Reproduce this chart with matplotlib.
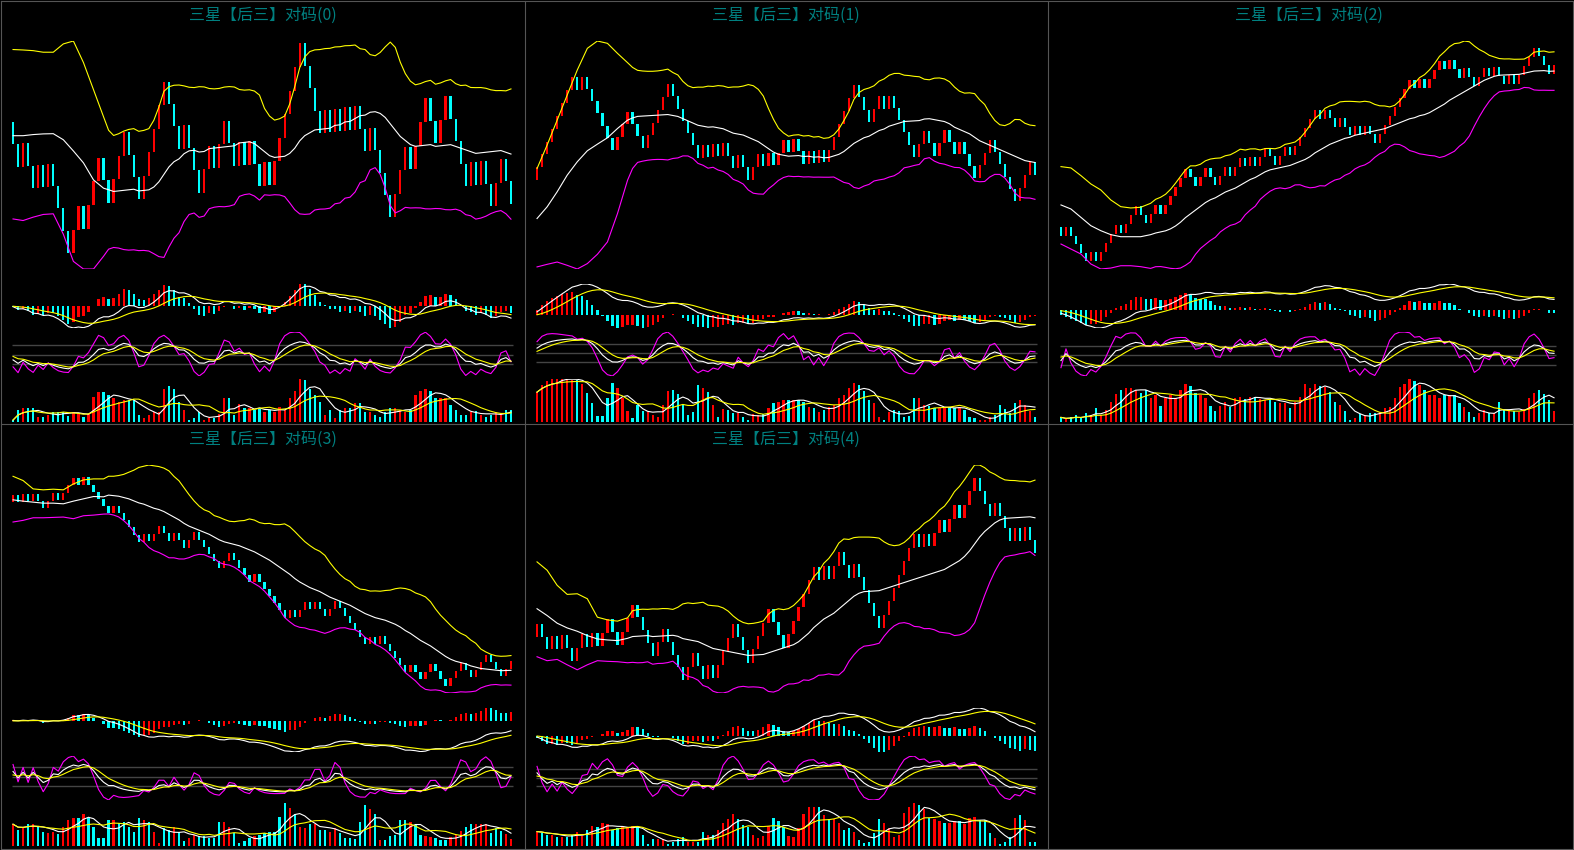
import numpy as np
import matplotlib.pyplot as plt
from matplotlib.lines import Line2D

plt.rcParams['font.family'] = ['Noto Sans CJK SC', 'DejaVu Sans']

# ---- data ----
titles = ['三星【后三】对码(0)', '三星【后三】对码(1)', '三星【后三】对码(2)',
          '三星【后三】对码(3)', '三星【后三】对码(4)']

# U = red bar (step up), D = cyan bar (step down); each bar opens at the previous close
moves = [
    "DDUDDUDUDD" "DDUUDUUUDD" "UUUDDDUUUU" "UDDDUDDDUU" "DUUDDUDUDD"
    "UDUUUUUUDD" "DDUDUDUDUD" "DUDDDDUUUD" "UUUDDUUDDD" "DUDUDDUUDD",
    "UUUUUUUUDU" "DDDDDDUUUD" "DDUUUUUDDD" "DDDUDUDUDD" "UDDUUDUDUU"
    "DUDDUDUDUU" "UUUUDDDUUD" "UDDDDDUUDD" "UUDDUDDDUU" "UDDDDDUUUD",
    "DUDDDDUDUU" "UUDUUUDDUU" "DUUUUUDDUU" "DDUUDUUDUD" "UUDDUUDUUU"
    "UUDUDDUDDU" "DUDDUUUUUU" "UDUDUUUDUD" "DUDDUUDUDD" "UDUUUUDDDU",
    "UDUDUDDUUD" "UUUDUDDDDD" "UDDDDDUDUU" "DDUDDUUDDD" "DDUUDDDDUD"
    "DDDDDUDUUD" "UDDUUDDDDD" "DUDUDDDDDU" "DDUUDDDUUU" "DDUUUDDDUU",
    "UDDUDUDDUU" "DUDUUDDUUU" "DDDDUUDDDD" "UUDDUDUUUU" "DDDUUUUDDD"
    "UUUUUUDUDU" "UDDUDDDDDU" "UUUUUUDUDU" "UDUUDUUUDD" "DUDDDUDUDD",
]
up_step = 1.05   # an up bar is a little taller than a down bar
down_step = 1.0

vol0 = [5, 35, 40, 40, 40, 13, 13, 20, 28, 28,
        30, 18, 30, 27, 15, 22, 72, 87, 87, 80,
        70, 60, 65, 65, 65, 20, 12, 20, 30, 30,
        97, 107, 97, 60, 35, 5, 12, 30, 5, 12,
        12, 22, 70, 70, 20, 52, 40, 40, 35, 38,
        30, 35, 30, 45, 35, 70, 90, 127, 125, 98,
        80, 60, 20, 35, 10, 35, 40, 40, 55, 55,
        30, 28, 20, 13, 30, 40, 40, 35, 30, 35,
        78, 92, 97, 92, 70, 70, 70, 50, 35, 20,
        20, 30, 32, 20, 15, 20, 28, 25, 35, 35]
vol1 = [88, 110, 122, 127, 127, 127, 127, 125, 125, 112,
        85, 55, 17, 17, 70, 115, 100, 70, 32, 10,
        50, 32, 30, 20, 15, 50, 90, 95, 82, 50,
        20, 30, 110, 100, 88, 50, 15, 38, 35, 25,
        25, 15, 5, 22, 20, 22, 40, 55, 60, 65,
        65, 65, 65, 60, 45, 40, 30, 35, 45, 50,
        70, 80, 100, 115, 110, 90, 65, 55, 15, 5,
        30, 35, 32, 15, 17, 70, 70, 50, 48, 40,
        40, 40, 45, 40, 45, 35, 15, 10, 5, 5,
        15, 20, 50, 38, 25, 55, 65, 50, 32, 15]
vol2 = [13, 7, 13, 20, 10, 27, 20, 42, 20, 35,
        60, 82, 95, 100, 100, 95, 87, 95, 70, 80,
        48, 70, 80, 70, 95, 113, 108, 85, 80, 70,
        48, 32, 48, 60, 45, 72, 75, 68, 75, 75,
        68, 65, 68, 58, 55, 55, 42, 58, 75, 112,
        100, 112, 107, 105, 90, 60, 50, 32, 5, 12,
        22, 20, 25, 25, 30, 40, 45, 70, 105, 113,
        128, 122, 110, 95, 80, 80, 70, 80, 80, 80,
        55, 45, 30, 15, 25, 35, 25, 25, 60, 35,
        35, 32, 30, 38, 70, 85, 95, 82, 65, 32]
vol3 = [65, 47, 54, 65, 65, 57, 42, 37, 42, 35,
        55, 77, 85, 85, 97, 85, 57, 22, 22, 77,
        77, 69, 72, 57, 42, 85, 77, 72, 42, 7,
        52, 47, 55, 40, 15, 22, 32, 29, 29, 22,
        22, 72, 72, 57, 37, 7, 15, 22, 29, 32,
        37, 42, 42, 87, 129, 115, 97, 57, 52, 67,
        67, 47, 47, 42, 52, 37, 22, 22, 19, 72,
        122, 112, 97, 17, 17, 29, 32, 77, 77, 72,
        62, 32, 29, 27, 22, 17, 17, 27, 32, 45,
        57, 65, 65, 65, 65, 37, 52, 45, 35, 20]
vol4 = [42, 39, 32, 32, 27, 27, 27, 32, 42, 29,
        47, 59, 57, 67, 65, 47, 52, 55, 55, 59,
        57, 32, 5, 19, 19, 19, 5, 12, 20, 25,
        12, 12, 12, 42, 32, 32, 47, 67, 79, 95,
        79, 62, 57, 32, 22, 29, 59, 82, 72, 57,
        30, 25, 52, 95, 115, 115, 115, 92, 79, 79,
        69, 47, 52, 42, 17, 7, 12, 39, 79, 69,
        52, 27, 32, 97, 115, 127, 122, 109, 82, 79,
        72, 67, 67, 72, 72, 65, 82, 85, 75, 75,
        39, 22, 5, 12, 25, 82, 92, 75, 12, 12]
volumes = [vol0, vol1, vol2, vol3, vol4]

# BOLL values over the first 19 bars (their window reaches before the chart), bars 0,2,..,18
boll_head_idx = [0, 2, 4, 6, 8, 10, 12, 14, 16, 18]
boll_up_head = [
    [3.23, 3.21, 3.18, 3.11, 3.11, 3.48, 3.61, 2.65, 1.44, 0.23],
    [0.95, 2.86, 4.90, 6.95, 8.99, 10.76, 11.36, 11.17, 10.35, 9.59],
    [7.05, 6.90, 6.01, 5.04, 4.34, 3.18, 2.40, 2.25, 2.33, 2.79],
    [3.59, 3.00, 1.84, 1.71, 1.80, 1.71, 2.53, 3.09, 3.23, 3.23],
    [5.89, 5.24, 4.06, 3.35, 3.40, 3.01, 1.57, 1.36, 1.26, 1.52],
]
boll_mid_head = [
    [-0.61, -0.61, -0.56, -0.53, -0.52, -0.79, -1.29, -1.82, -2.58, -2.95],
    [-3.13, -2.18, -0.95, 0.41, 1.50, 2.40, 2.94, 3.46, 4.22, 4.90],
    [2.60, 2.13, 1.16, 0.19, -0.39, -0.85, -1.09, -1.09, -1.09, -0.85],
    [0.32, 0.14, 0.0, -0.14, -0.14, -0.23, 0.14, 0.46, 0.78, 0.74],
    [2.23, 1.70, 1.10, 0.73, 0.47, 0.13, -0.13, -0.21, -0.26, -0.08],
]
boll_low_head = [
    [-4.32, -4.39, -4.24, -4.12, -4.09, -5.00, -6.21, -6.55, -6.55, -5.98],
    [-7.08, -6.87, -6.68, -6.95, -7.25, -6.81, -6.05, -5.04, -2.72, 0.0],
    [-1.94, -2.52, -3.10, -4.26, -4.84, -4.73, -4.46, -4.46, -4.57, -4.77],
    [-2.76, -2.53, -2.17, -2.17, -2.12, -2.07, -2.30, -1.89, -1.80, -1.66],
    [-1.52, -1.83, -1.73, -2.15, -2.54, -2.15, -1.83, -1.88, -1.91, -1.99],
]

RED, CYAN, YEL, MAG, WHT = '#ff0000', '#00ffff', '#ffff00', '#ff00ff', '#ffffff'
GRID = '#555555'

# ---- layout in pixels ----
W, H = 1574, 850
col_left = [8, 532, 1056]
col_width = [508, 508, 503]
row_off = [0, 424]
areas = {'main': (41, 269), 'macd': (284, 328), 'kdj': (332, 376), 'vol': (379, 421.7)}
title_xy = [(262.5, 15), (786, 15), (1309, 15), (262.5, 439), (786, 439)]

fig = plt.figure(figsize=(W / 100, H / 100), dpi=100, facecolor='black')


def add_ax(col, row, area):
    top, bot = areas[area]
    t, b = top + row_off[row], bot + row_off[row]
    ax = fig.add_axes([col_left[col] / W, 1 - b / H, col_width[col] / W, (b - t) / H])
    ax.set_facecolor('none')
    ax.axis('off')
    ax.set_xlim(-1, 100)
    return ax


n = 100
x = np.arange(n)
bw = 0.45

for p in range(5):
    row, col = divmod(p, 3)
    steps = np.array([up_step if m == 'U' else -down_step for m in moves[p]])
    close = np.cumsum(steps)
    opn = np.concatenate([[0.0], close[:-1]])
    cols = np.where(steps > 0, RED, CYAN)
    hi = np.maximum(opn, close)
    lo = np.minimum(opn, close)

    # main: bars + BOLL(20, 2)
    ax = add_ax(col, row, 'main')
    ax.bar(x, close - opn, bottom=opn, width=bw, color=cols, linewidth=0, antialiased=False)
    win = [close[k - 19:k + 1] for k in range(19, n)]
    mids = np.array([w.mean() for w in win])
    sds = np.array([w.std() for w in win])
    bx = np.concatenate([boll_head_idx, np.arange(19, n)])
    bup = np.concatenate([boll_up_head[p], mids + 2 * sds])
    bmid = np.concatenate([boll_mid_head[p], mids])
    blow = np.concatenate([boll_low_head[p], mids - 2 * sds])
    ax.plot(bx, bup, color=YEL, lw=0.8)
    ax.plot(bx, bmid, color=WHT, lw=0.8)
    ax.plot(bx, blow, color=MAG, lw=0.8)
    allv = np.concatenate([bup, blow, hi, lo])
    ax.set_ylim(allv.min(), allv.max())

    # MACD(12, 26, 9)
    e12 = e26 = boll_mid_head[p][0]
    dea = 0.0
    dif_l, dea_l = [], []
    for c in close:
        e12 += 2 / 13 * (c - e12)
        e26 += 2 / 27 * (c - e26)
        d = e12 - e26
        dea += 0.2 * (d - dea)
        dif_l.append(d)
        dea_l.append(dea)
    dif_l, dea_l = np.array(dif_l), np.array(dea_l)
    hist = 2 * (dif_l - dea_l)
    prev = np.concatenate([[0.0], hist[:-1]])
    hcols = np.where(hist >= prev, RED, CYAN)
    ax = add_ax(col, row, 'macd')
    ax.bar(x, hist, width=bw, color=hcols, linewidth=0, antialiased=False)
    ax.plot(x, dif_l, color=WHT, lw=0.8)
    ax.plot(x, dea_l, color=YEL, lw=0.8)
    allm = np.concatenate([hist, dif_l, dea_l, [0]])
    ax.set_ylim(allm.min(), allm.max())

    # KDJ(9, 3, 3)
    kv = dv = 50.0
    K, D, J = [], [], []
    for i in range(n):
        h9 = hi[max(0, i - 8):i + 1].max()
        l9 = lo[max(0, i - 8):i + 1].min()
        rsv = (close[i] - l9) / (h9 - l9) * 100 if h9 > l9 else 50.0
        kv = 2 / 3 * kv + rsv / 3
        dv = 2 / 3 * dv + kv / 3
        K.append(kv)
        D.append(dv)
        J.append(3 * kv - 2 * dv)
    ax = add_ax(col, row, 'kdj')
    ax.hlines([20, 50, 80], -0.2, 99.4, color='#444444', lw=1)
    ax.plot(x, J, color=MAG, lw=0.8)
    ax.plot(x, K, color=WHT, lw=0.8)
    ax.plot(x, D, color=YEL, lw=0.8)
    allk = np.concatenate([K, D, J])
    ax.set_ylim(allk.min(), allk.max())

    # volume + MA5 / MA10
    vol = np.array(volumes[p], dtype=float)
    ma5 = np.array([vol[max(0, i - 4):i + 1].mean() for i in range(n)])
    ma10 = np.array([vol[max(0, i - 9):i + 1].mean() for i in range(n)])
    ax = add_ax(col, row, 'vol')
    ax.bar(x, vol, width=bw, color=cols, linewidth=0, antialiased=False)
    ax.plot(x, ma5, color=WHT, lw=0.8)
    ax.plot(x, ma10, color=YEL, lw=0.8)
    ax.set_ylim(0, vol.max())

    tx, ty = title_xy[p]
    fig.text(tx / W, 1 - ty / H, titles[p], color='#008080', fontsize=11.5,
             ha='center', va='center')

# panel frames
for xx in [0.5, 524.5, 1047.5, 1572.5]:
    fig.add_artist(Line2D([xx / W, xx / W], [1 - 0.5 / H, 1 - 848.5 / H], color=GRID, lw=0.8))
for yy in [0.5, 424, 848.5]:
    fig.add_artist(Line2D([0.5 / W, 1572.5 / W], [1 - yy / H, 1 - yy / H], color=GRID, lw=0.8))

fig.savefig('out.png', dpi=100, facecolor='black')
